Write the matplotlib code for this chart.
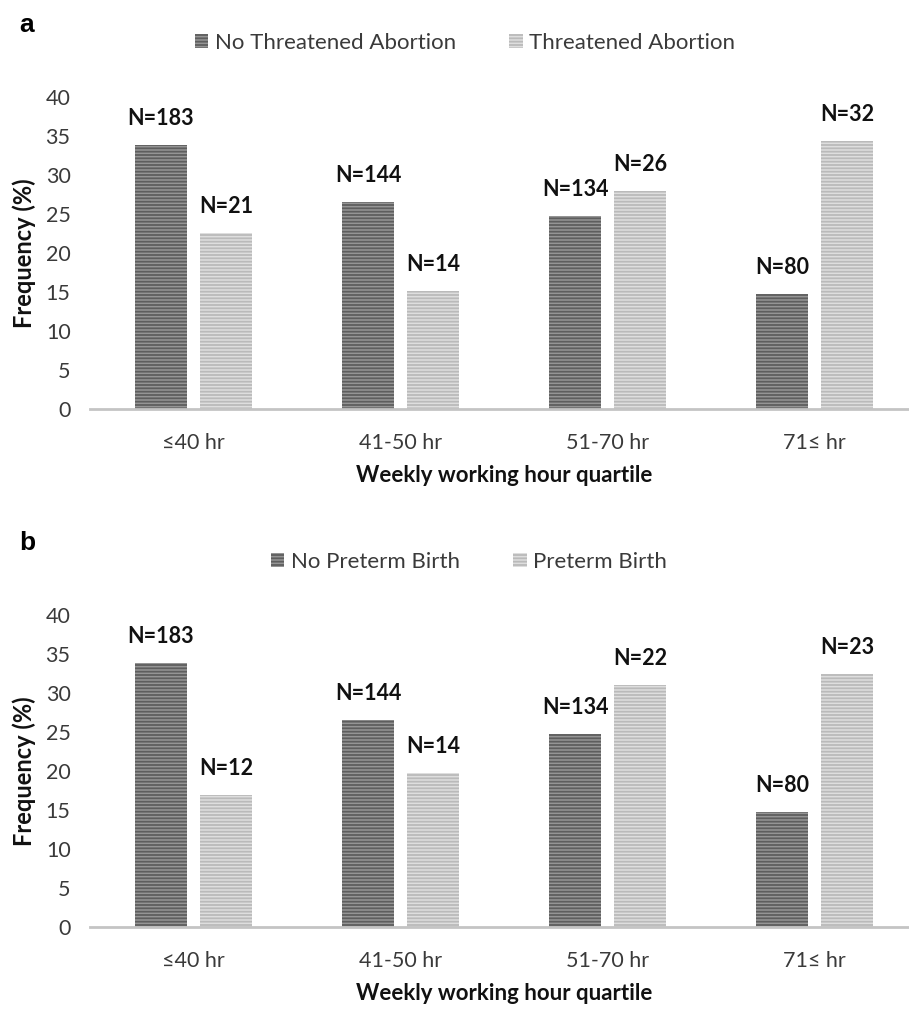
import numpy as np
import matplotlib
matplotlib.use("Agg")
import matplotlib.pyplot as plt

categories = ["≤40 hr", "41-50 hr", "51-70 hr", "71≤ hr"]

# panel a
a_labels = ["No Threatened Abortion", "Threatened Abortion"]
a_no = [33.8, 26.6, 24.8, 14.8]
a_yes = [22.6, 15.1, 28.0, 34.4]
a_no_n = [183, 144, 134, 80]
a_yes_n = [21, 14, 26, 32]

# panel b
b_labels = ["No Preterm Birth", "Preterm Birth"]
b_no = [33.8, 26.6, 24.8, 14.8]
b_yes = [16.9, 19.7, 31.0, 32.4]
b_no_n = [183, 144, 134, 80]
b_yes_n = [12, 14, 22, 23]

plt.rcParams["font.family"] = ["Lato", "DejaVu Sans"]
plt.rcParams["hatch.linewidth"] = 1.3

W, H = 909, 1009
fig = plt.figure(figsize=(W / 100, H / 100), dpi=100)

DARK_FACE, DARK_HATCH = "#959595", "#5e5e5e"
LIGHT_FACE, LIGHT_HATCH = "#dedede", "#bababa"
TXT = "#3a3a3a"


def panel(ax, no, yes, no_n, yes_n, labels, letter, letter_y, leg_x, leg_y):
    x = np.arange(len(categories))
    w = 0.251
    off = 0.157
    b1 = ax.bar(x - off, no, w, color=DARK_FACE, edgecolor=DARK_HATCH,
                linewidth=0, hatch="-----", label=labels[0])
    b2 = ax.bar(x + off, yes, w, color=LIGHT_FACE, edgecolor=LIGHT_HATCH,
                linewidth=0, hatch="-----", label=labels[1])
    for bars, ns in [(b1, no_n), (b2, yes_n)]:
        for r, n in zip(bars, ns):
            ax.annotate(f"N={n}", (r.get_x() + r.get_width() / 2, r.get_height()),
                        xytext=(0, 19), textcoords="offset points",
                        ha="center", va="center", fontsize=15.5,
                        fontweight="bold", color="#111111")

    ax.set_xlim(-0.5, len(categories) - 0.5)
    ax.set_ylim(0, 40)
    ax.set_yticks(range(0, 41, 5))
    ax.set_xticks(x)
    ax.set_xticklabels(categories)
    ax.tick_params(axis="y", length=0, pad=14, labelsize=15.5, labelcolor=TXT)
    ax.tick_params(axis="x", length=0, pad=17, labelsize=15.5, labelcolor=TXT)
    for s in ["top", "right", "left"]:
        ax.spines[s].set_visible(False)
    ax.spines["bottom"].set_color("#c4c4c4")
    ax.spines["bottom"].set_linewidth(2)
    ax.set_ylabel("Frequency (%)", fontsize=17, fontweight="bold", labelpad=7,
                  color="#111111")
    ax.set_xlabel("Weekly working hour quartile", fontsize=16,
                  fontweight="bold", labelpad=9, color="#111111")

    ax.legend(loc="center", bbox_to_anchor=(leg_x, leg_y),
              bbox_transform=fig.transFigure, ncol=2, frameon=False,
              fontsize=16, handlelength=0.6, handleheight=0.6,
              handletextpad=0.3, columnspacing=2.4, labelcolor=TXT)
    fig.text(27 / W, 1 - letter_y / H, letter, fontsize=19, fontweight="bold",
             ha="center", va="center", family=["Liberation Sans", "DejaVu Sans"])


ax_a = fig.add_axes([90 / W, 600 / H, 828 / W, 312 / H])
ax_b = fig.add_axes([90 / W, 82 / H, 828 / W, 312 / H])

panel(ax_a, a_no, a_yes, a_no_n, a_yes_n, a_labels, "a", 25, 465 / W, 1 - 43 / H)
panel(ax_b, b_no, b_yes, b_no_n, b_yes_n, b_labels, "b", 543, 469 / W, 1 - 562 / H)

fig.savefig("out.png", dpi=100)
